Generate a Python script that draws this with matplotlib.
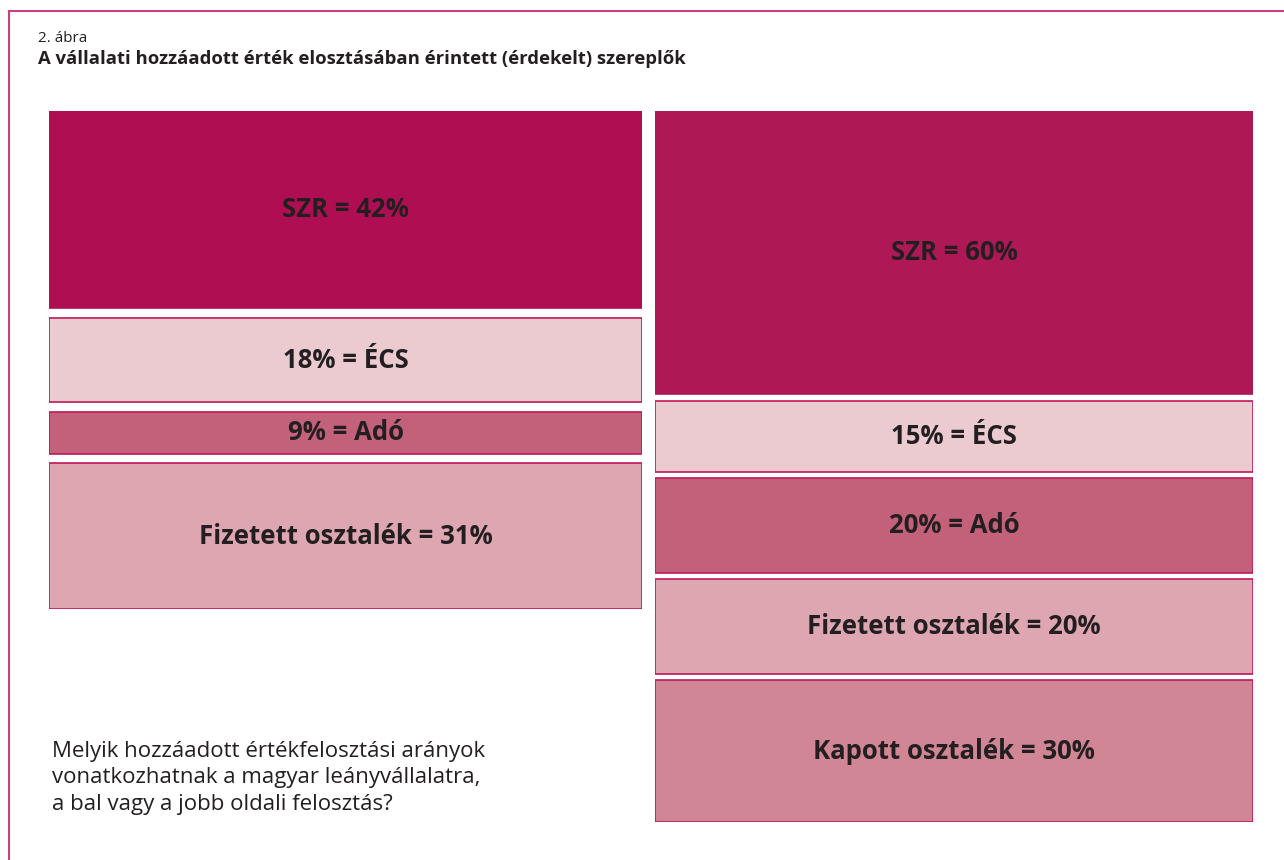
import numpy as np
import matplotlib
matplotlib.use('Agg')
from matplotlib import pyplot as plt
from matplotlib.lines import Line2D

# 数据
left_names = ['SZR', 'ÉCS', 'Adó', 'Fizetett osztalék']
left_values = [42, 18, 9, 31]
left_labels = ['SZR = 42%', '18% = ÉCS', '9% = Adó', 'Fizetett osztalék = 31%']

right_names = ['SZR', 'ÉCS', 'Adó', 'Fizetett osztalék', 'Kapott osztalék']
right_values = [60, 15, 20, 20, 30]
right_labels = ['SZR = 60%', '15% = ÉCS', '20% = Adó', 'Fizetett osztalék = 20%', 'Kapott osztalék = 30%']

fig_label = '2. ábra'
title = 'A vállalati hozzáadott érték elosztásában érintett (érdekelt) szereplők'
question = ('Melyik hozzáadott értékfelosztási arányok\n'
            'vonatkozhatnak a magyar leányvállalatra,\n'
            'a bal vagy a jobb oldali felosztás?')

# 颜色
colors = {
    'SZR': '#AF0F52',
    'ÉCS': '#EBCAD0',
    'Adó': '#C3607A',
    'Fizetett osztalék': '#DEA6B1',
    'Kapott osztalék': '#D08694',
}
edge = '#C0185A'
frame_color = '#C8417C'
text_color = '#231F20'

plt.rcParams['font.family'] = ['Open Sans', 'DejaVu Sans']

W, H = 1284, 860
fig = plt.figure(figsize=(W / 100, H / 100), dpi=100)


def px_axes(x0, y0, x1, y1):
    # 像素坐标 -> figure 坐标
    return fig.add_axes([x0 / W, 1 - y1 / H, (x1 - x0) / W, (y1 - y0) / H])


def stack(ax, names, values, labels, gap, right=False):
    bottoms = np.cumsum([0] + [v + gap for v in values[:-1]])
    for n, v, b, lab in zip(names, values, bottoms, labels):
        c = colors[n]
        if n == 'SZR' and right:
            c = '#AE1855'
        ax.bar(0, v, bottom=b, width=1, color=c,
               edgecolor=c if n == 'SZR' else edge, linewidth=1.2)
        ax.text(0, b + v / 2, lab, ha='center', va='center',
                fontsize=18.5, fontweight='bold', color=text_color)
    total = values[-1] + bottoms[-1]
    ax.set_xlim(-0.5, 0.5)
    ax.set_ylim(total, 0)
    ax.axis('off')


ax1 = px_axes(49, 111, 642, 609)
stack(ax1, left_names, left_values, left_labels, gap=2.0)

ax2 = px_axes(655, 111, 1253, 822)
stack(ax2, right_names, right_values, right_labels, gap=1.4, right=True)

# 边框
fig.add_artist(Line2D([9 / W, 1], [1 - 11 / H, 1 - 11 / H], color=frame_color, lw=1.5))
fig.add_artist(Line2D([9 / W, 9 / W], [0, 1 - 11 / H], color=frame_color, lw=1.5))

fig.text(38 / W, 1 - 38 / H, fig_label, fontsize=11, color=text_color, va='center')
fig.text(38 / W, 1 - 59 / H, title, fontsize=13.3, fontweight='bold', color=text_color, va='center')
fig.text(52 / W, 1 - 778 / H, question, fontsize=16, color=text_color,
         va='center', linespacing=1.34)

plt.savefig('out.png', dpi=100)
